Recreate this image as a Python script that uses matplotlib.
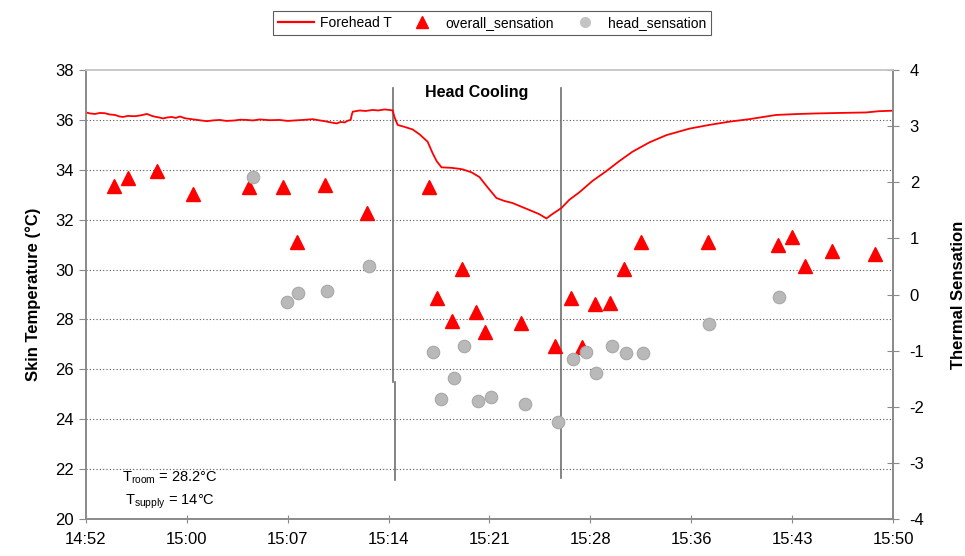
"""
Forehead skin temperature and thermal sensation votes during a head-cooling
session (14:52 - 15:50).
"""

import matplotlib
matplotlib.use("Agg")
import matplotlib.pyplot as plt
from matplotlib.lines import Line2D

plt.rcParams["font.family"] = ["Liberation Sans", "DejaVu Sans"]
plt.rcParams["mathtext.fontset"] = "custom"
plt.rcParams["mathtext.rm"] = "Liberation Sans"
plt.rcParams["mathtext.it"] = "Liberation Sans"
plt.rcParams["axes.unicode_minus"] = False

# Time axis: minutes after 14:52, ticks every 7.25 min.
TICK_MIN = [0, 7.25, 14.5, 21.75, 29.0, 36.25, 43.5, 50.75, 58.0]
TICK_LABELS = ["14:52", "15:00", "15:07", "15:14", "15:21",
               "15:28", "15:36", "15:43", "15:50"]

# Forehead temperature trace (deg C).
FOREHEAD_MIN = [
    0.0, 0.3, 0.65, 1.0, 1.36, 1.7, 2.08, 2.4, 2.66, 3.0,
    3.52, 3.9, 4.38, 4.7, 4.95, 5.25, 5.53, 5.85, 6.17, 6.45,
    6.75, 7.1, 7.47, 8.0, 8.69, 9.1, 9.62, 10.1, 10.7, 11.1,
    11.56, 12.0, 12.49, 13.2, 13.92, 14.5, 15.0, 15.6, 16.29, 16.7,
    17.16, 17.6, 18.02, 18.3, 18.59, 18.81, 19.02, 19.1, 19.17, 19.67,
    20.1, 20.6, 21.0, 21.46, 21.82, 22.04, 22.18, 22.4, 22.9, 23.47,
    23.98, 24.55, 24.91, 25.2, 25.55, 25.9, 26.27, 26.7, 27.06, 27.71,
    28.28, 28.86, 29.5, 30.08, 30.65, 31.3, 31.87, 32.59, 33.09, 33.45,
    34.17, 34.74, 35.46, 36.39, 37.4, 38.33, 39.26, 40.49, 41.71, 43.36,
    44.79, 46.23, 47.66, 49.6, 51.25, 52.47, 54.12, 56.06, 56.99, 57.93,
]
FOREHEAD_T = [
    36.30, 36.26, 36.24, 36.28, 36.27, 36.22, 36.20, 36.14, 36.12, 36.16,
    36.15, 36.18, 36.24, 36.17, 36.13, 36.10, 36.06, 36.10, 36.12, 36.08,
    36.14, 36.07, 36.04, 36.00, 35.95, 35.98, 36.00, 35.96, 35.98, 36.01,
    36.00, 35.98, 36.02, 35.99, 36.00, 35.96, 35.98, 36.00, 36.03, 35.99,
    35.95, 35.90, 35.86, 35.92, 35.90, 35.97, 36.00, 36.20, 36.33, 36.38,
    36.36, 36.40, 36.38, 36.42, 36.40, 36.38, 36.10, 35.80, 35.72, 35.62,
    35.42, 35.13, 34.67, 34.35, 34.10, 34.09, 34.08, 34.05, 34.02, 33.90,
    33.71, 33.30, 32.87, 32.75, 32.67, 32.52, 32.39, 32.22, 32.05, 32.20,
    32.47, 32.80, 33.10, 33.55, 33.95, 34.35, 34.72, 35.10, 35.39, 35.65,
    35.80, 35.93, 36.03, 36.20, 36.24, 36.26, 36.28, 36.30, 36.35, 36.37,
]

# Overall thermal sensation votes.
OVERALL_MIN = [
    2.01, 3.01, 5.10, 7.68, 11.70, 14.14, 15.15, 17.16, 20.17, 24.62,
    25.20, 26.27, 26.99, 28.00, 28.71, 31.30, 33.74, 34.89, 35.68, 36.61,
    37.69, 38.69, 39.91, 44.72, 49.75, 50.75, 51.68, 53.62, 56.71,
]
OVERALL_VOTE = [
    1.93, 2.08, 2.20, 1.80, 1.92, 1.92, 0.94, 1.95, 1.46, 1.92,
    -0.07, -0.48, 0.45, -0.32, -0.66, -0.51, -0.91, -0.06, -0.93, -0.16,
    -0.15, 0.45, 0.94, 0.94, 0.89, 1.02, 0.50, 0.78, 0.73,
]

# Head (local) thermal sensation votes.
HEAD_MIN = [
    11.99, 14.43, 15.22, 17.30, 20.31, 24.91, 25.48, 26.42, 27.14, 28.14,
    29.14, 31.58, 33.95, 35.03, 35.96, 36.68, 37.83, 38.83, 40.05, 44.79,
    49.82,
]
HEAD_VOTE = [
    2.10, -0.13, 0.03, 0.06, 0.50, -1.03, -1.86, -1.49, -0.92, -1.90,
    -1.83, -1.95, -2.28, -1.14, -1.03, -1.40, -0.92, -1.05, -1.04, -0.53,
    -0.04,
]

# Start/end of the cooling period (minutes after 14:52).
COOL_START = 22.04
COOL_END = 34.17

SPINE = "#8a8a8a"


def main():
    fig = plt.figure(figsize=(9.65, 5.56), dpi=100)
    ax = fig.add_axes([0.0891, 0.0665, 0.8363, 0.8075])
    ax2 = ax.twinx()

    # Skin temperature on the left axis.
    ax.plot(FOREHEAD_MIN, FOREHEAD_T, color="#ff0000", lw=1.3, zorder=3)
    ax.set_xlim(0, 58)
    ax.set_ylim(20, 38)
    ax.set_yticks(range(20, 39, 2))
    ax.set_xticks(TICK_MIN)
    ax.set_xticklabels(TICK_LABELS)
    for y in range(22, 37, 2):
        ax.axhline(y, color="#555555", lw=0.8, ls=(0, (1, 2)), zorder=1)

    # Cooling period markers; the first one is drawn in two pieces.
    ax.plot([COOL_START, COOL_START], [25.49, 37.28], color="#6e6e6e", lw=1.2, zorder=2)
    ax.plot([COOL_START + 0.19, COOL_START + 0.19], [21.56, 25.49],
            color="#6e6e6e", lw=1.2, zorder=2)
    ax.plot([COOL_END, COOL_END], [21.64, 37.28], color="#6e6e6e", lw=1.2, zorder=2)
    ax.text((COOL_START + COOL_END) / 2, 37.12, "Head Cooling",
            ha="center", va="center", fontsize=11.5, fontweight="bold")

    ax.text(6.03, 21.64, r"T$_{\rm room}$ = 28.2°C", ha="center", va="center",
            fontsize=10.5)
    ax.text(6.03, 20.68, r"T$_{\rm supply}$ = 14°C", ha="center", va="center",
            fontsize=10.5)

    # Sensation votes on the right axis.
    ax2.plot(OVERALL_MIN, OVERALL_VOTE, ls="none", marker="^", ms=9.5,
             color="#ff0000", mec="#ff0000", zorder=4)
    ax2.plot(HEAD_MIN, HEAD_VOTE, ls="none", marker="o", ms=9,
             color="#b9b9b9", mec="#a8a8a8", mew=0.8, zorder=5)
    ax2.set_ylim(-4, 4)
    ax2.set_yticks(range(-4, 5))

    ax.set_ylabel("Skin Temperature (°C)", fontsize=12, fontweight="bold",
                  labelpad=10)
    ax2.set_ylabel("Thermal Sensation", fontsize=12, fontweight="bold",
                   labelpad=19)

    for a in (ax, ax2):
        for s in a.spines.values():
            s.set_color(SPINE)
            s.set_linewidth(1.2)
    ax.spines["top"].set_color("#c8c8c8")
    ax2.spines["top"].set_color("#c8c8c8")
    ax.tick_params(axis="y", direction="out", length=5, color=SPINE,
                   labelsize=12, pad=4)
    ax.tick_params(axis="x", direction="inout", length=6, color=SPINE,
                   labelsize=12, pad=6)
    ax2.tick_params(axis="y", direction="inout", length=8, color=SPINE,
                    labelsize=12, pad=8)

    handles = [
        Line2D([], [], color="#ff0000", lw=1.6),
        Line2D([], [], ls="none", marker="^", ms=8, color="#ff0000"),
        Line2D([], [], ls="none", marker="o", ms=7, color="#c4c4c4"),
    ]
    leg = fig.legend(handles, ["Forehead T", "overall_sensation", "head_sensation"],
                     loc="center", bbox_to_anchor=(0.51, 0.959), ncol=3,
                     fontsize=10, frameon=True, fancybox=False,
                     handlelength=2.6, columnspacing=0.9, handletextpad=0.4,
                     borderpad=0.35)
    leg.get_frame().set_edgecolor("#333333")
    leg.get_frame().set_linewidth(0.8)

    fig.savefig("out.png", dpi=100)


if __name__ == "__main__":
    main()
